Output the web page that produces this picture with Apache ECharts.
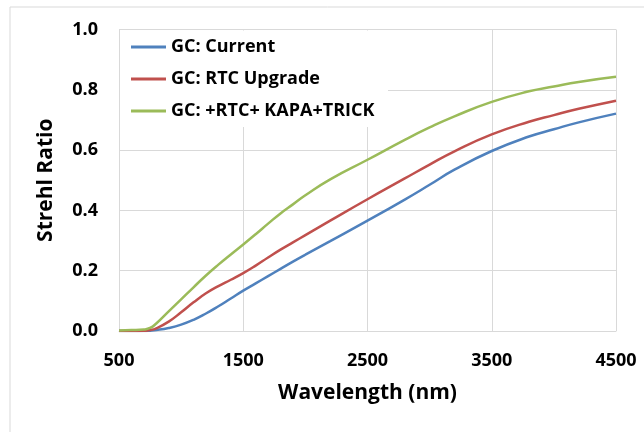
<!DOCTYPE html>
<html>
<head>
<meta charset="utf-8">
<script src="https://cdn.jsdelivr.net/npm/echarts@6/dist/echarts.min.js"></script>
<style>
html,body{margin:0;padding:0;background:#fff;}
#chart{width:644px;height:432px;}
</style>
</head>
<body>
<div id="chart"></div>
<script>
const wavelengths = [500, 600, 700, 750, 800, 900, 1000, 1100, 1200, 1300, 1400, 1500, 1600, 1700, 1800, 1900, 2000, 2200, 2500, 2800, 3000, 3200, 3500, 3800, 4000, 4200, 4500];
const gcCurrent = [0, 0, 0, 0.001, 0.003, 0.01, 0.021, 0.037, 0.058, 0.082, 0.108, 0.134, 0.158, 0.182, 0.206, 0.23, 0.253, 0.298, 0.366, 0.436, 0.485, 0.535, 0.597, 0.645, 0.669, 0.692, 0.721];
const gcRtcUpgrade = [0, 0, 0.001, 0.003, 0.009, 0.031, 0.062, 0.095, 0.125, 0.149, 0.17, 0.192, 0.217, 0.244, 0.27, 0.294, 0.318, 0.366, 0.437, 0.506, 0.552, 0.596, 0.652, 0.694, 0.716, 0.737, 0.764];
const gcRtcKapaTrick = [0.002, 0.003, 0.005, 0.01, 0.025, 0.065, 0.105, 0.145, 0.184, 0.22, 0.254, 0.287, 0.321, 0.356, 0.39, 0.42, 0.45, 0.503, 0.568, 0.634, 0.675, 0.712, 0.76, 0.795, 0.811, 0.826, 0.843];
const seriesNames = ['GC: Current', 'GC: RTC Upgrade', 'GC: +RTC+ KAPA+TRICK'];
const xTickLabels = [500, 1500, 2500, 3500, 4500];
const yTickLabels = [0, 0.2, 0.4, 0.6, 0.8, 1.0];
const colors = ['#4F81BD', '#C0504D', '#9BBB59'];

const FONT = 'Open Sans';
const chart = echarts.init(document.getElementById('chart'), null, {renderer: 'canvas'});
const allSeries = [gcCurrent, gcRtcUpgrade, gcRtcKapaTrick];

const option = {
  animation: false,
  backgroundColor: '#fff',
  textStyle: {fontFamily: FONT},
  graphic: [
    {type: 'rect', z: -10, shape: {x: 10, y: 7, width: 700, height: 500}, style: {fill: '#fff', stroke: '#d9d9d9', lineWidth: 1}},
    {type: 'rect', z: 3, shape: {x: 120, y: 30.5, width: 268, height: 96.5}, style: {fill: '#fff'}}
  ],
  grid: {left: 119, right: 28, top: 29.5, bottom: 101, containLabel: false},
  legend: {
    orient: 'vertical',
    left: 120,
    top: 30,
    padding: [7, 3, 7, 11],
    itemGap: 12,
    itemWidth: 35,
    itemHeight: 3,
    icon: 'rect',
    z: 5,
    textStyle: {fontFamily: FONT, fontWeight: 'bold', fontSize: 18, color: '#000', lineHeight: 20},
    data: seriesNames
  },
  xAxis: {
    type: 'value',
    min: 500,
    max: 4500,
    axisLine: {show: true, lineStyle: {color: '#d9d9d9', width: 1}},
    axisTick: {show: false, customValues: xTickLabels},
    axisLabel: {customValues: xTickLabels, margin: 21, fontFamily: FONT, fontWeight: 'bold', fontSize: 18, color: '#000', formatter: v => String(v)},
    splitLine: {show: true, lineStyle: {color: '#d9d9d9', width: 1}},
    name: 'Wavelength (nm)',
    nameLocation: 'middle',
    nameGap: 52,
    nameTextStyle: {fontFamily: FONT, fontWeight: 'bold', fontSize: 21, color: '#000'}
  },
  yAxis: {
    type: 'value',
    min: 0,
    max: 1,
    interval: 0.2,
    axisLine: {show: true, lineStyle: {color: '#d9d9d9', width: 1}},
    axisTick: {show: false},
    axisLabel: {margin: 21, fontFamily: FONT, fontWeight: 'bold', fontSize: 18, color: '#000', formatter: v => v.toFixed(1)},
    splitLine: {show: true, lineStyle: {color: '#d9d9d9', width: 1}},
    name: 'Strehl Ratio',
    nameLocation: 'middle',
    nameGap: 62,
    nameTextStyle: {fontFamily: FONT, fontWeight: 'bold', fontSize: 21, color: '#000'}
  },
  series: allSeries.map((vals, i) => ({
    name: seriesNames[i],
    type: 'line',
    data: wavelengths.map((w, j) => [w, vals[j]]),
    smooth: 0.5,
    symbol: 'none',
    z: 2 + i,
    lineStyle: {color: colors[i], width: 2.5},
    itemStyle: {color: colors[i]}
  }))
};
chart.setOption(option);
</script>
</body>
</html>
